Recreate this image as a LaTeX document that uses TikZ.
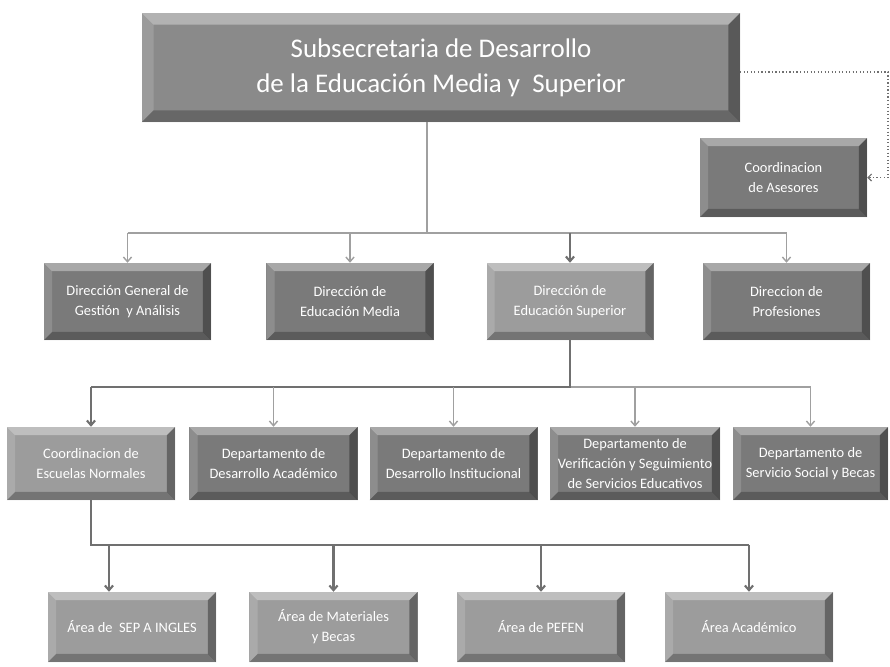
\documentclass[tikz,border=0pt]{standalone}
\usepackage{fontspec}
\setmainfont{Carlito}
\usetikzlibrary{arrows.meta}
\definecolor{cajaosc}{HTML}{7A7A7A}
\definecolor{cajaclara}{HTML}{9C9C9C}
\definecolor{cajatop}{HTML}{8A8A8A}
\definecolor{lineafina}{HTML}{A0A0A0}
\definecolor{lineagruesa}{HTML}{707070}
\newcommand{\bsz}{7pt}
\begin{document}
\begin{tikzpicture}[x=0.03cm,y=-0.03cm]
		% Estilos
		\tikzstyle{bisel} = [path picture={
			\fill[white,opacity=.35] (path picture bounding box.north west) -- (path picture bounding box.north east) -- ([xshift=-\bsz,yshift=-\bsz]path picture bounding box.north east) -- ([xshift=\bsz,yshift=-\bsz]path picture bounding box.north west) -- cycle;
			\fill[white,opacity=.15] (path picture bounding box.north west) -- ([xshift=\bsz,yshift=-\bsz]path picture bounding box.north west) -- ([xshift=\bsz,yshift=\bsz]path picture bounding box.south west) -- (path picture bounding box.south west) -- cycle;
			\fill[black,opacity=.35] (path picture bounding box.north east) -- (path picture bounding box.south east) -- ([xshift=-\bsz,yshift=\bsz]path picture bounding box.south east) -- ([xshift=-\bsz,yshift=-\bsz]path picture bounding box.north east) -- cycle;
			\fill[black,opacity=.25] (path picture bounding box.south west) -- (path picture bounding box.south east) -- ([xshift=-\bsz,yshift=\bsz]path picture bounding box.south east) -- ([xshift=\bsz,yshift=\bsz]path picture bounding box.south west) -- cycle;
		}]
		\tikzstyle{caja} = [rectangle, minimum width=5.04cm, minimum height=2.25cm, inner sep=2pt, align=center, text=white, fill=cajaosc, font=\fontsize{12.3}{17}\selectfont, bisel]
		\tikzstyle{clara} = [fill=cajaclara]
		\tikzstyle{fina} = [lineafina, line width=1.2pt, ->, >={Straight Barb[length=4pt,width=7pt]}]
		\tikzstyle{gruesa} = [lineagruesa, line width=1.8pt, ->, >={Straight Barb[length=4pt,width=7pt]}]
		\tikzstyle{punteada} = [lineagruesa, dotted, line width=1pt, ->, >={Straight Barb[length=3pt,width=6pt]}]
		% Fondo
		\fill[white] (0,0) rectangle (890,666);
		\useasboundingbox (0,0) rectangle (890,666);
		% Nodos
		\node (sub) [caja, fill=cajatop, minimum width=17.94cm, minimum height=3.27cm, font=\fontsize{23}{30}\selectfont, /utils/exec={\renewcommand{\bsz}{10pt}}] at (441,67.5) {Subsecretaria de Desarrollo\\de la Educación Media y\ \ Superior};
		\node (ase) [caja, minimum width=5.01cm, minimum height=2.37cm] at (783.5,177.5) {Coordinacion\\de Asesores};
		\node (dgga) [caja, minimum width=5.01cm, minimum height=2.31cm] at (127.5,301.5) {Dirección General de\\Gestión\ \ y Análisis};
		\node (dem) [caja, minimum width=5.01cm, minimum height=2.31cm] at (350,301.5) {Dirección de\\Educación Media};
		\node (des) [caja, clara, minimum width=5.01cm, minimum height=2.31cm] at (570,301.5) {Dirección de\\Educación Superior};
		\node (dpro) [caja, minimum width=5.01cm, minimum height=2.31cm] at (786.5,301.5) {Direccion de\\Profesiones};
		\node (cen) [caja, clara, minimum height=2.19cm] at (91,463.5) {Coordinacion de\\Escuelas Normales};
		\node (dda) [caja, minimum height=2.19cm] at (273.5,463.5) {Departamento de\\Desarrollo Académico};
		\node (ddi) [caja, minimum height=2.19cm] at (453.5,463.5) {Departamento de\\Desarrollo Institucional};
		\node (dvs) [caja, minimum width=5.1cm, minimum height=2.19cm] at (635,463.5) {Departamento de\\Verificación y Seguimiento\\de Servicios Educativos};
		\node (dss) [caja, minimum width=4.65cm, minimum height=2.19cm] at (810.5,463.5) {Departamento de\\Servicio Social y Becas};
		\node (asi) [caja, clara, minimum height=2.1cm] at (132,627) {Área de\ \ SEP A INGLES};
		\node (amb) [caja, clara, minimum height=2.1cm] at (333.5,627) {Área de Materiales\\y Becas};
		\node (ape) [caja, clara, minimum height=2.1cm] at (541,627) {Área de PEFEN};
		\node (aac) [caja, clara, minimum height=2.1cm] at (749,627) {Área Académico};
		% Puntos de unión
		\coordinate (bus1) at (427,233);
		\coordinate (bus2) at (570,387);
		\coordinate (bus3) at (92,545);
		\coordinate (dotc) at (888,72);
		% Flechas
		\draw [punteada] (sub.east |- dotc) -- (dotc) -- (dotc |- ase) -- (ase);
		\draw [fina,-] (bus1 |- sub.south) -- (bus1);
		\draw [fina,-] (bus1 -| dgga) -- (bus1 -| dpro);
		\draw [fina] (bus1 -| dgga) -- (dgga);
		\draw [fina] (bus1 -| dem) -- (dem);
		\draw [gruesa] (bus1 -| des) -- (des);
		\draw [fina] (bus1 -| dpro) -- (dpro);
		\draw [fina,-] (bus2 -| des) -- (bus2 -| dss);
		\draw [gruesa,-] (des) -- (des |- bus2) -- (bus2 -| cen);
		\draw [gruesa] (bus2 -| cen) -- (cen);
		\draw [fina] (bus2 -| dda) -- (dda);
		\draw [fina] (bus2 -| ddi) -- (ddi);
		\draw [fina] (bus2 -| dvs) -- (dvs);
		\draw [fina] (bus2 -| dss) -- (dss);
		\draw [gruesa,-] (cen) -- (cen |- bus3) -- (bus3 -| aac);
		\draw [gruesa] ([xshift=-0.69cm]bus3 -| asi) -- ([xshift=-0.69cm]asi.north);
		\draw [gruesa] (bus3 -| amb) -- (amb);
		\draw [gruesa] (bus3 -| ape) -- (ape);
		\draw [gruesa] (bus3 -| aac) -- (aac);
	\end{tikzpicture}
\end{document}
